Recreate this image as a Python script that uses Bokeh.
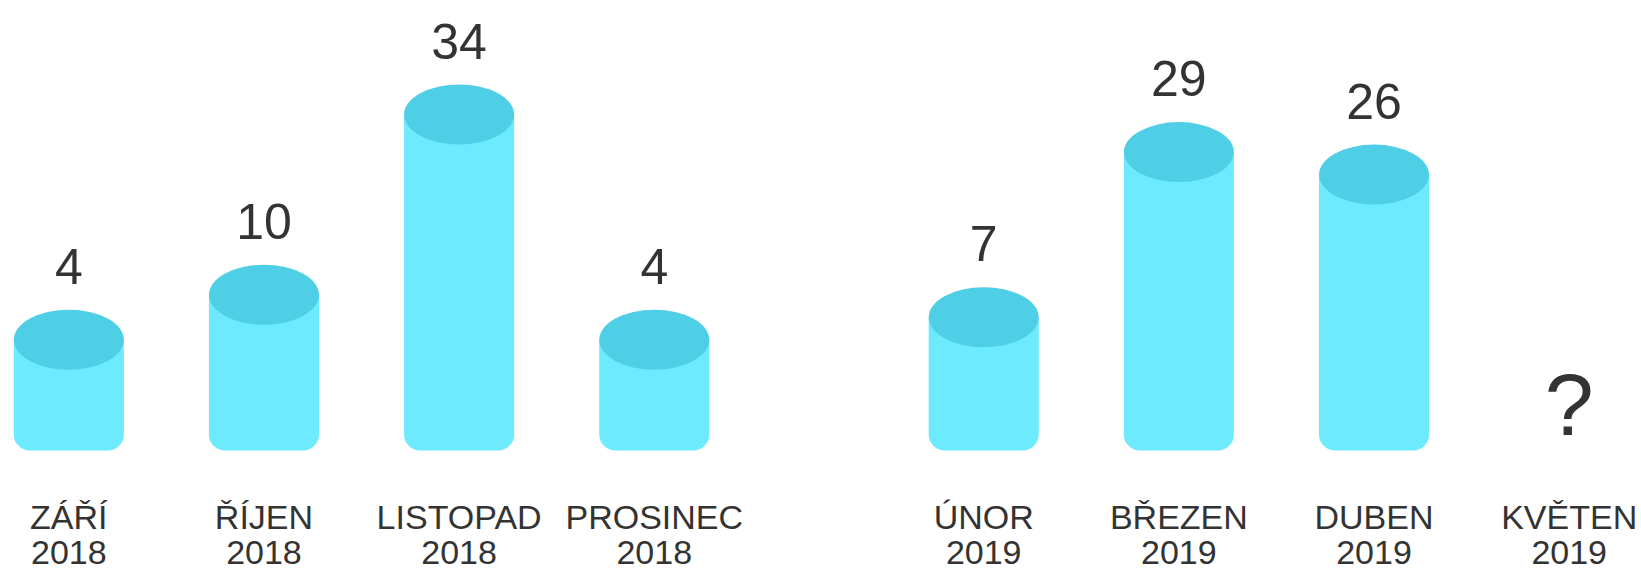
from bokeh.plotting import figure
from bokeh.models import FactorRange, Range1d, ColumnDataSource, LabelSet
from bokeh.core.properties import value
from bokeh.embed import file_html
from bokeh.resources import INLINE

years = ["2018", "2018", "2018", "2018", "2019", "2019", "2019", "2019"]
months = ["ZÁŘÍ", "ŘÍJEN", "LISTOPAD", "PROSINEC", "ÚNOR", "BŘEZEN", "DUBEN", "KVĚTEN"]
counts = [4, 10, 34, 4, 7, 29, 26, float("nan")]
count_labels = ["4", "10", "34", "4", "7", "29", "26", ""]
unknown_label = "?"

factors = list(zip(years, months))

SIDE = "#6DEAFD"
TOP = "#4FCFE6"
INK = "#333333"
FONT = "Liberation Sans"
BASE = -10.75
W, H = 1641, 571
ZERO_PX = 369.3
PX_PER_UNIT = 7.507

x_range = FactorRange(*factors, factor_padding=0.0, group_padding=0.688,
                      range_padding=-0.15, range_padding_units="absolute")
y_range = Range1d(start=-(H - ZERO_PX) / PX_PER_UNIT, end=ZERO_PX / PX_PER_UNIT)

p = figure(x_range=x_range, y_range=y_range, width=W, height=H,
           x_axis_location=None, y_axis_location=None,
           toolbar_location=None, output_backend="svg",
           min_border=0, min_border_right=4)
p.grid.visible = False
p.outline_line_color = None
p.background_fill_color = "white"
p.border_fill_color = "white"

src = ColumnDataSource(dict(
    x=factors, top=counts, base=[BASE] * len(counts),
    lab=count_labels, month=months, year=years,
))

p.vbar(x="x", top="top", bottom="base", width=0.564, source=src,
       fill_color=SIDE, line_color=None, border_radius=(0, 0, 16, 16))
p.ellipse(x="x", y="top", width=110, height=60, width_units="screen",
          height_units="screen", source=src, fill_color=TOP, line_color=None)

p.add_layout(LabelSet(x="x", y="top", text="lab", source=src, y_offset=56,
                      text_align="center", text_baseline="alphabetic",
                      text_font=value(FONT), text_font_size="50px", text_color=INK))

p.add_layout(LabelSet(x="x", y="base", text="month", source=src, y_offset=-78,
                      text_align="center", text_baseline="alphabetic",
                      text_font=value(FONT), text_font_size="34px", text_color=INK))
p.add_layout(LabelSet(x="x", y="base", text="year", source=src, y_offset=-113,
                      text_align="center", text_baseline="alphabetic",
                      text_font=value(FONT), text_font_size="34px", text_color=INK))

usrc = ColumnDataSource(dict(x=[factors[-1]], y=[BASE], t=[unknown_label]))
p.add_layout(LabelSet(x="x", y="y", text="t", source=usrc, y_offset=16,
                      text_align="center", text_baseline="alphabetic",
                      text_font=value(FONT), text_font_size="88px", text_color=INK))

open("out.html", "w").write(file_html(p, INLINE))
